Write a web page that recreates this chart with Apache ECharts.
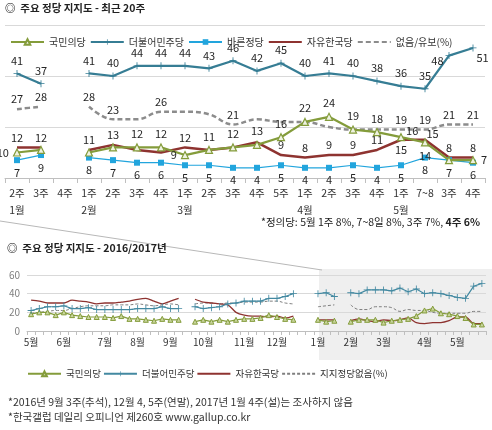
<!DOCTYPE html>
<html><head><meta charset="utf-8">
<script src="https://cdn.jsdelivr.net/npm/echarts@6/dist/echarts.min.js"></script>
<style>html,body{margin:0;padding:0;background:#fff}#c{width:492px;height:430px}</style>
</head><body><div id="c"></div>
<script>
// ---------- Top chart: recent 20 weeks ----------
const topWeeks  = ['2주','3주','4주','1주','2주','3주','4주','1주','2주','3주','4주','5주','1주','2주','3주','4주','1주','7~8','3주','4주'];
const topMonths = ['1월','','','2월','','','','3월','','','','','4월','','','','5월','','',''];
const topPeople = [10,11,'-',10,12,12,12,9,11,12,13,16,22,24,19,18,16,14,7,7];
const topDem    = [41,37,'-',41,40,44,44,44,43,46,42,45,40,41,40,38,36,35,48,51];
const topBareun = [7,9,'-',8,7,6,6,5,5,4,4,5,4,4,5,4,5,8,7,6];
const topLiberty= [12,12,'-',11,13,11,10,12,11,12,14,9,8,9,9,11,15,15,8,8];
const topNone   = [27,28,'-',28,23,23,26,26,25,21,23,22,22,20,19,19,19,19,21,21];

// label placement per point (t=top b=bottom l=left r=right tr=top-right, null=no label)
const posPeople = ['l',null,null,null,null,'t','t','l','t','t','t','t','t','t','t','t','tr','b',null,'r'];
const posDem    = ['t','t',null,'t','t','t','t','t','t','t','t','t','t','t','t','t','t','t','tl','br'];
const posBareun = ['b','b',null,'b','b','b','b','b','b','b','b','b','b','b','b','b','b','b','b','b'];
const posLiberty= ['t','t',null,'t','t',null,null,'t',null,null,null,'t','t','t','t','t','b','tr','t','t'];
const posNone   = ['t','t',null,'t','t',null,'t',null,null,'t',null,null,null,null,null,null,'t','t','t','t'];

// ---------- Bottom chart: 2016/2017 weekly ----------
const lowCats = ['16.5.1','16.5.2','16.5.3','16.5.4',
 '16.6.1','16.6.2','16.6.3','16.6.4','16.6.5',
 '16.7.1','16.7.2','16.7.3','16.7.4',
 '16.8.1','16.8.2','16.8.3','16.8.4',
 '16.9.1','16.9.2','16.9.3','16.9.4',
 '16.10.1','16.10.2','16.10.3','16.10.4','16.10.5',
 '16.11.1','16.11.2','16.11.3','16.11.4',
 '16.12.1','16.12.2','16.12.3','16.12.4','16.12.5',
 '17.1.1','17.1.2','17.1.3','17.1.4',
 '17.2.1','17.2.2','17.2.3','17.2.4',
 '17.3.1','17.3.2','17.3.3','17.3.4','17.3.5',
 '17.4.1','17.4.2','17.4.3','17.4.4',
 '17.5.1','17.5.2','17.5.3','17.5.4'];
const lowPeople = [18,20,20,17, 20,17,16,15,15, 15,14,16,13, 13,12,11,13, 12,12,'-',10, 12,10,12,10,12, 13,13,14,17, 15,13,12,'-','-', 12,10,11,'-', 10,12,12,12, 9,11,12,13,16, 22,24,19,18, 16,14,7,7];
const lowDem    = [22,24,26,26, 27,24,24,25,23, 23,23,23,23, 24,24,24,26, 24,24,'-',26, 24,25,26,29,30, 32,32,32,35, 35,37,40,'-','-', 40,41,37,'-', 41,40,44,44, 44,43,46,42,45, 40,41,40,38, 36,35,48,51];
const lowLiberty= [33,32,30,30, 30,33,32,31,29, 30,30,31,32, 34,35,32,29, 32,35,'-',34, 31,30,29,28,20, 17,16,16,15, 16,14,16,'-','-', 12,12,12,'-', 11,13,11,10, 12,11,12,14,9, 8,9,9,11, 15,15,8,8];
const lowNone   = [19,20,21,22, 22,24,26,27,27, 27,28,28,28, 29,28,27,28, 29,28,'-',29, 30,30,29,30,30, 31,31,31,32, 32,30,29,'-','-', 26,27,28,'-', 28,23,23,26, 26,25,21,23,22, 22,20,19,19, 19,19,21,21];

const FONT = '"Noto Sans CJK KR","Noto Sans",sans-serif';
const C_OLIVE = '#849c3b', C_TEAL = '#367d94', C_BLUE = '#22a5dd', C_RED = '#8e3330', C_GRAY = '#8c8c8c';
const C_TEAL2 = '#4389a1';
const PLUS = 'path://M-0.6,-5H0.6V-0.6H5V0.6H0.6V5H-0.6V0.6H-5V-0.6H-0.6Z';
const CLEAR = 'rgba(0,0,0,0)';

const POS = {t:{position:'top'}, b:{position:'bottom'}, l:{position:'left'}, r:{position:'right'},
  tr:{position:'right', offset:[-3,-6]}, tl:{position:'left', offset:[2,5]}, br:{position:'right', offset:[-4,10]}};
function withLabels(vals, pos){
  return vals.map((v,i)=> v==='-' ? '-' : ({value:v, label: pos[i] ? Object.assign({show:true}, POS[pos[i]]) : {show:false}}));
}
const LBL = {show:false, fontSize:11, color:'#262626', fontFamily:FONT, distance:4};

const chart = echarts.init(document.getElementById('c'), null, {renderer:'canvas'});
const axisGray = '#bfbfbf';
chart.setOption({
  animation:false,
  textStyle:{fontFamily:FONT},
  grid:[{left:5,right:7,top:25,bottom:252},{left:27,right:6,top:275,bottom:99}],
  xAxis:[
    {type:'category', gridIndex:0, data:topWeeks, boundaryGap:true,
     axisLine:{lineStyle:{color:axisGray}},
     axisTick:{show:true, interval:0, length:5, lineStyle:{color:axisGray}},
     axisLabel:{interval:0, margin:7, fontSize:10.5, color:'#333', lineHeight:17,
       formatter:(v,i)=> topMonths[i] ? v+'\n'+topMonths[i] : v}},
    {type:'category', gridIndex:1, data:lowCats, boundaryGap:true,
     axisLine:{lineStyle:{color:axisGray}},
     axisTick:{show:true, interval:0, length:4, lineStyle:{color:axisGray}},
     axisLabel:{interval:0, margin:6, fontSize:10, color:'#333',
       formatter:(v)=>{const p=v.split('.'); return p[2]==='1' ? p[1]+'월' : '';}}}
  ],
  yAxis:[
    {type:'value', gridIndex:0, min:0, max:60, interval:20,
     axisLabel:{show:false}, axisLine:{show:false}, axisTick:{show:false},
     splitLine:{lineStyle:{color:'#d9d9d9'}}},
    {type:'value', gridIndex:1, min:0, max:60, interval:20,
     axisLabel:{fontSize:10, color:'#7f7f7f', margin:7}, axisLine:{show:false}, axisTick:{show:false},
     splitLine:{lineStyle:{color:'#d9d9d9'}}}
  ],
  legend:[
    {left:5, top:32, itemWidth:33, itemHeight:7, itemGap:4,
     textStyle:{fontSize:10, color:'#333', fontFamily:FONT},
     data:['국민의당','더불어민주당','바른정당','자유한국당','없음/유보(%)']},
    {left:22, top:364, itemWidth:33, itemHeight:6, itemGap:2,
     textStyle:{fontSize:9.5, color:'#333', fontFamily:FONT},
     formatter:(n)=>n.trim(),
     data:['국민의당 ','더불어민주당 ','자유한국당 ','지지정당없음(%)']}
  ],
  graphic:[
    {type:'rect', z:-1, shape:{x:319,y:269,width:173,height:91}, style:{fill:'#efefef'}},
    {type:'line', z:-1, shape:{x1:0,y1:221,x2:322,y2:270}, style:{stroke:'#b8b8b8', lineWidth:1}},
    {type:'text', left:5, top:3, style:{text:'◎  주요 정당 지지도 - 최근 20주', font:'bold 10.5px '+FONT, fill:'#222'}},
    {type:'text', right:12, top:217, style:{text:'*정의당: 5월 1주 8%, 7~8일 8%, 3주 7%, {b|4주 6%}', font:'10.5px '+FONT, fill:'#222',
       rich:{b:{fontWeight:'bold', fontSize:10.5, fontFamily:FONT, fill:'#222'}}}},
    {type:'text', left:7, top:243, style:{text:'◎  주요 정당 지지도 - 2016/2017년', font:'bold 10.5px '+FONT, fill:'#222'}},
    {type:'text', left:8, top:397, style:{text:'*2016년 9월 3주(추석), 12월 4, 5주(연말), 2017년 1월 4주(설)는 조사하지 않음', font:'10.5px '+FONT, fill:'#333'}},
    {type:'text', left:8, top:412, style:{text:'*한국갤럽 데일리 오피니언 제260호 www.gallup.co.kr', font:'10.5px '+FONT, fill:'#333'}}
  ],
  series:[
    // top
    {name:'없음/유보(%)', type:'line', xAxisIndex:0, yAxisIndex:0, data:withLabels(topNone,posNone), smooth:0.4,
     symbol:'circle', symbolSize:1, showSymbol:true, lineStyle:{color:C_GRAY, width:2.5, type:[5,3]},
     itemStyle:{color:CLEAR, borderWidth:0}, label:LBL, z:2},
    {name:'바른정당', type:'line', xAxisIndex:0, yAxisIndex:0, data:withLabels(topBareun,posBareun),
     symbol:'rect', symbolSize:6, lineStyle:{color:C_BLUE, width:1.2}, itemStyle:{color:C_BLUE}, label:LBL, z:3},
    {name:'자유한국당', type:'line', xAxisIndex:0, yAxisIndex:0, data:withLabels(topLiberty,posLiberty),
     symbol:'circle', symbolSize:1, showSymbol:true, lineStyle:{color:C_RED, width:2.5},
     itemStyle:{color:CLEAR, borderWidth:0}, label:LBL, z:3},
    {name:'국민의당', type:'line', xAxisIndex:0, yAxisIndex:0, data:withLabels(topPeople,posPeople),
     symbol:'triangle', symbolSize:7, lineStyle:{color:C_OLIVE, width:2.2},
     itemStyle:{color:'#eef2e0', borderColor:C_OLIVE, borderWidth:1.2}, label:LBL, z:4},
    {name:'더불어민주당', type:'line', xAxisIndex:0, yAxisIndex:0, data:withLabels(topDem,posDem),
     symbol:PLUS, symbolSize:7, lineStyle:{color:C_TEAL, width:2.2}, itemStyle:{color:C_TEAL}, label:LBL, z:4},
    // bottom
    {name:'지지정당없음(%)', type:'line', xAxisIndex:1, yAxisIndex:1, data:lowNone, smooth:0.4,
     symbol:'circle', symbolSize:1, showSymbol:false, lineStyle:{color:'#7f7f7f', width:1, type:[3,2]},
     itemStyle:{color:CLEAR, borderWidth:0}, z:2},
    {name:'자유한국당 ', type:'line', xAxisIndex:1, yAxisIndex:1, data:lowLiberty, smooth:0.3,
     symbol:'circle', symbolSize:1, showSymbol:false, lineStyle:{color:C_RED, width:1.3},
     itemStyle:{color:CLEAR, borderWidth:0}, z:3},
    {name:'국민의당 ', type:'line', xAxisIndex:1, yAxisIndex:1, data:lowPeople,
     symbol:'triangle', symbolSize:5, lineStyle:{color:C_OLIVE, width:1.2},
     itemStyle:{color:'#c9d59e', borderColor:C_OLIVE, borderWidth:1}, z:4},
    {name:'더불어민주당 ', type:'line', xAxisIndex:1, yAxisIndex:1, data:lowDem,
     symbol:PLUS, symbolSize:7, lineStyle:{color:C_TEAL2, width:1.2}, itemStyle:{color:C_TEAL2}, z:4}
  ]
});
</script></body></html>
